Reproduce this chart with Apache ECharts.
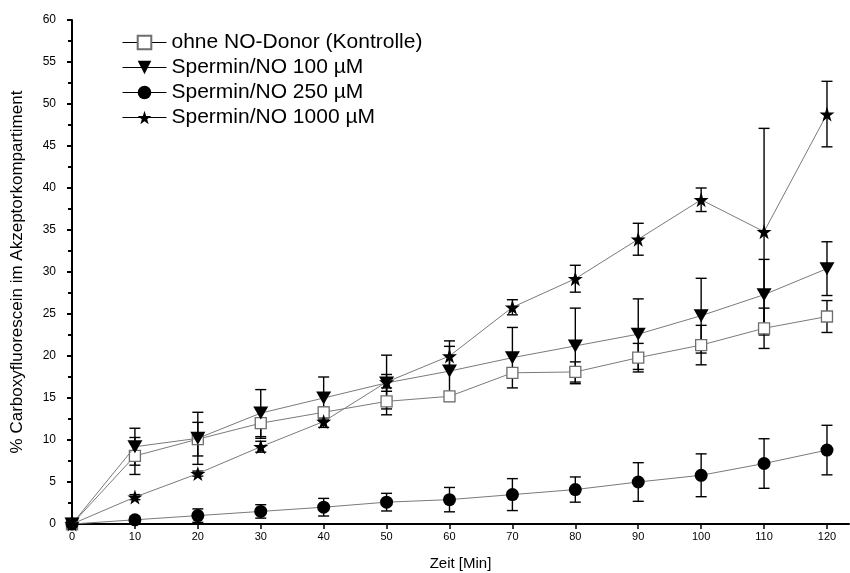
<!DOCTYPE html>
<html>
<head>
<meta charset="utf-8">
<script src="https://cdn.jsdelivr.net/npm/echarts@6/dist/echarts.min.js"></script>
<style>
  html, body { margin: 0; padding: 0; background: #fff; }
  #chart { width: 850px; height: 573px; }
</style>
</head>
<body>
<div id="chart"></div>
<script>
// Sampling times (minutes)
const times = [0, 10, 20, 30, 40, 50, 60, 70, 80, 90, 100, 110, 120];
const xTicks = [0, 10, 20, 30, 40, 50, 60, 70, 80, 90, 100, 110, 120];

// Mean values (% carboxyfluorescein in acceptor compartment) and standard deviations
const kontrolle   = [0, 8.1, 10.1, 12.0, 13.3, 14.6, 15.2, 18.0, 18.1, 19.8, 21.3, 23.3, 24.7];
const kontrolleSd = [0, 2.2, 2.0, 1.8, 0.6, 1.6, 0.5, 0.5, 1.2, 1.7, 2.35, 2.4, 1.9];
const sp100       = [0, 9.2, 10.2, 13.2, 15.0, 16.8, 18.2, 19.8, 21.2, 22.6, 24.8, 27.3, 30.4];
const sp100Sd     = [0, 2.2, 3.1, 2.8, 2.5, 1.0, 3.6, 3.6, 4.5, 4.2, 4.45, 4.2, 3.2];
const sp250       = [0, 0.5, 1.0, 1.5, 2.0, 2.6, 2.9, 3.5, 4.1, 5.0, 5.8, 7.2, 8.8];
const sp250Sd     = [0, 0.3, 0.8, 0.8, 1.05, 1.05, 1.45, 1.9, 1.5, 2.3, 2.55, 2.95, 2.95];
const sp1000      = [0, 3.2, 6.0, 9.2, 12.2, 16.9, 20.0, 25.8, 29.2, 33.9, 38.6, 34.8, 48.8];
const sp1000Sd    = [0, 0.3, 0.3, 0.65, 0.7, 3.2, 1.15, 0.9, 1.6, 1.9, 1.4, 12.3, 3.9];

const seriesNames = [
  'ohne NO-Donor (Kontrolle)',
  'Spermin/NO 100 µM',
  'Spermin/NO 250 µM',
  'Spermin/NO 1000 µM'
];

const FONT = "'Liberation Sans', Arial, Helvetica, sans-serif";
const LINE_GREY = '#7a7a7a';

const SYM_DOWN_TRI = 'path://M0,0L20,0L10,18Z';
const SYM_STAR = 'path://M50,0L61.8,35.1L98.1,35.1L68.8,56.7L79.4,90.5L50,69.7L20.6,90.5L31.2,56.7L1.9,35.1L38.2,35.1Z';

function pairs(vals) {
  return times.map((t, i) => [t, vals[i]]);
}
function errRows(vals, sds) {
  return times.map((t, i) => [t, vals[i] - sds[i], vals[i] + sds[i]])
              .filter((r, i) => sds[i] > 0);
}

// Vertical error bar with caps
function renderErr(params, api) {
  const x = api.value(0);
  const lo = api.coord([x, api.value(1)]);
  const hi = api.coord([x, api.value(2)]);
  const half = 5.5;
  const style = { stroke: '#000', lineWidth: 1.4 };
  return {
    type: 'group',
    children: [
      { type: 'line', shape: { x1: lo[0], y1: lo[1], x2: hi[0], y2: hi[1] }, style },
      { type: 'line', shape: { x1: hi[0] - half, y1: hi[1], x2: hi[0] + half, y2: hi[1] }, style },
      { type: 'line', shape: { x1: lo[0] - half, y1: lo[1], x2: lo[0] + half, y2: lo[1] }, style }
    ]
  };
}

function errSeries(vals, sds) {
  return {
    type: 'custom',
    renderItem: renderErr,
    data: errRows(vals, sds),
    encode: { x: 0, y: [1, 2] },
    z: 2,
    silent: true
  };
}

const chart = echarts.init(document.getElementById('chart'), null, { renderer: 'canvas' });

chart.setOption({
  animation: false,
  backgroundColor: '#fff',
  textStyle: { fontFamily: FONT },
  grid: { left: 72, right: 1, top: 20, bottom: 49, containLabel: false, outerBoundsMode: 'none' },
  legend: {
    orient: 'vertical',
    left: 117,
    top: 25,
    itemWidth: 44,
    itemHeight: 17,
    itemGap: 0,
    lineStyle: { color: '#000', width: 1 },
    textStyle: { fontFamily: FONT, fontSize: 21, color: '#000', lineHeight: 25 },
    data: seriesNames
  },
  xAxis: {
    type: 'value',
    min: 0,
    max: 123.5,
    name: 'Zeit [Min]',
    nameLocation: 'middle',
    nameGap: 32,
    nameTextStyle: { fontFamily: FONT, fontSize: 15, color: '#000' },
    axisLine: { show: true, onZero: false, lineStyle: { color: '#000', width: 2 } },
    axisTick: { show: true, inside: false, length: 5, lineStyle: { color: '#000', width: 1.5 }, customValues: xTicks },
    axisLabel: { margin: 7, fontFamily: FONT, fontSize: 11, color: '#000', customValues: xTicks },
    splitLine: { show: false }
  },
  yAxis: {
    type: 'value',
    min: 0,
    max: 60,
    interval: 5,
    name: '% Carboxyfluorescein im Akzeptorkompartiment',
    nameLocation: 'middle',
    nameGap: 46,
    nameTextStyle: { fontFamily: FONT, fontSize: 17, color: '#000' },
    axisLine: { show: true, onZero: false, lineStyle: { color: '#000', width: 2 } },
    axisTick: { show: true, inside: false, length: 5, lineStyle: { color: '#000', width: 2 } },
    minorTick: { show: true, splitNumber: 2, length: 4, lineStyle: { color: '#000', width: 2 } },
    axisLabel: { margin: 16, fontFamily: FONT, fontSize: 12, color: '#000' },
    splitLine: { show: false }
  },
  series: [
    errSeries(kontrolle, kontrolleSd),
    errSeries(sp100, sp100Sd),
    errSeries(sp250, sp250Sd),
    errSeries(sp1000, sp1000Sd),
    {
      name: seriesNames[0],
      type: 'line',
      data: pairs(kontrolle),
      symbol: 'rect',
      symbolSize: 11,
      z: 3,
      lineStyle: { color: LINE_GREY, width: 1 },
      itemStyle: { color: '#fff', borderColor: '#6e6e6e', borderWidth: 1.3 }
    },
    {
      name: seriesNames[1],
      type: 'line',
      data: pairs(sp100),
      symbol: SYM_DOWN_TRI,
      symbolSize: [15, 13],
      z: 4,
      lineStyle: { color: LINE_GREY, width: 1 },
      itemStyle: { color: '#000', borderWidth: 0 }
    },
    {
      name: seriesNames[2],
      type: 'line',
      data: pairs(sp250),
      symbol: 'circle',
      symbolSize: 13,
      z: 4,
      lineStyle: { color: LINE_GREY, width: 1 },
      itemStyle: { color: '#000', borderWidth: 0 }
    },
    {
      name: seriesNames[3],
      type: 'line',
      data: pairs(sp1000),
      symbol: SYM_STAR,
      symbolSize: 15,
      z: 5,
      lineStyle: { color: LINE_GREY, width: 1 },
      itemStyle: { color: '#000', borderWidth: 0 }
    }
  ]
});
</script>
</body>
</html>
